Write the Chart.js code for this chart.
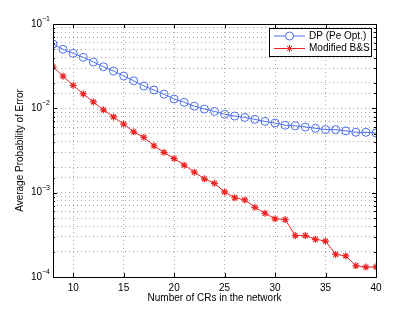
<!DOCTYPE html>
<html>
<head>
<meta charset="utf-8">
<script src="https://cdn.jsdelivr.net/npm/chart.js@4/dist/chart.umd.min.js"></script>
<style>
  html, body { margin: 0; padding: 0; background: #fff; }
  #wrap { width: 415px; height: 312px; position: relative; }
</style>
</head>
<body>
<div id="wrap"><canvas id="chart" width="415" height="312"></canvas></div>
<script>
// number of CRs
const crCounts = [8, 9, 10, 11, 12, 13, 14, 15, 16, 17, 18, 19, 20, 21, 22, 23, 24,
    25, 26, 27, 28, 29, 30, 31, 32, 33, 34, 35, 36, 37, 38, 39, 40];

const dpPeOpt = [0.0579, 0.0501, 0.0449, 0.0403, 0.0354, 0.0311, 0.0277, 0.0242,
    0.0212, 0.0184, 0.0165, 0.0147, 0.0129, 0.0118, 0.0106, 0.0098, 0.0092,
    0.0085, 0.0081, 0.0078, 0.0074, 0.0070, 0.0067, 0.0063, 0.0062, 0.0060,
    0.0058, 0.0056, 0.0056, 0.0054, 0.0052, 0.0052, 0.0051];

const modifiedBS = [0.0311, 0.0240, 0.0187, 0.0148, 0.0119, 0.0096, 0.0079, 0.0065,
    0.00526, 0.00453, 0.00360, 0.00301, 0.00254, 0.00212, 0.00175, 0.00146, 0.00129,
    0.00102, 0.00087, 0.00082, 0.00067, 0.00057, 0.00049, 0.00048, 0.00031, 0.00031,
    0.00028, 0.000267, 0.000185, 0.000178, 0.000136, 0.000131, 0.000132];

const xTicks = [10, 15, 20, 25, 30, 35, 40];
const yDecades = [-4, -3, -2, -1];

const seriesLabels = ['DP (Pe Opt.)', 'Modified B&S'];
const FONT = "'Liberation Sans', Arial, sans-serif";

const matlabLook = {
    id: 'matlabLook',
    afterDraw(chart) {
        const ctx = chart.ctx;
        const area = chart.chartArea;
        const xs = chart.scales.x;
        const ys = chart.scales.y;
        ctx.save();

        // box
        ctx.strokeStyle = '#000';
        ctx.lineWidth = 1;
        ctx.strokeRect(Math.round(area.left) + 0.5, Math.round(area.top) + 0.5,
            Math.round(area.right - area.left), Math.round(area.bottom - area.top));

        // inward tick marks
        ctx.beginPath();
        xs.ticks.forEach(t => {
            const px = Math.round(xs.getPixelForValue(t.value)) + 0.5;
            ctx.moveTo(px, area.bottom); ctx.lineTo(px, area.bottom - 4);
            ctx.moveTo(px, area.top); ctx.lineTo(px, area.top + 4);
        });
        ys.ticks.forEach(t => {
            const py = Math.round(ys.getPixelForValue(t.value)) + 0.5;
            const len = t.major ? 4 : 2;
            ctx.moveTo(area.left, py); ctx.lineTo(area.left + len, py);
            ctx.moveTo(area.right, py); ctx.lineTo(area.right - len, py);
        });
        ctx.stroke();

        // y labels 10^n
        ctx.fillStyle = '#000';
        ctx.textBaseline = 'middle';
        yDecades.forEach(d => {
            const py = ys.getPixelForValue(Math.pow(10, d));
            const exp = '\u2212' + Math.abs(d);
            ctx.font = '7px ' + FONT;
            const ew = ctx.measureText(exp).width;
            ctx.textAlign = 'left';
            ctx.fillText(exp, area.left - 3 - ew, py - 5);
            ctx.font = '10px ' + FONT;
            ctx.textAlign = 'right';
            ctx.fillText('10', area.left - 3 - ew, py);
        });

        // axis titles
        ctx.font = '10px ' + FONT;
        ctx.textAlign = 'center';
        ctx.fillText('Number of CRs in the network', (area.left + area.right) / 2, 298);
        ctx.translate(20, (area.top + area.bottom) / 2);
        ctx.rotate(-Math.PI / 2);
        ctx.fillText('Average Probability of Error', 0, 0);
        ctx.setTransform(1, 0, 0, 1, 0, 0);

        // legend
        const lx = 269, ly = 28, lw = 102, lh = 28;
        ctx.fillStyle = '#fff';
        ctx.fillRect(lx, ly, lw, lh);
        ctx.strokeStyle = '#000';
        ctx.strokeRect(lx + 0.5, ly + 0.5, lw, lh);
        chart.data.datasets.forEach((ds, i) => {
            const y = ly + 8 + i * 12.5;
            ctx.strokeStyle = ds.borderColor;
            ctx.lineWidth = 1;
            ctx.beginPath();
            ctx.moveTo(lx + 5, y); ctx.lineTo(lx + 36, y);
            ctx.stroke();
            Chart.helpers.drawPoint(ctx, {
                pointStyle: ds.pointStyle, radius: ds.pointRadius, borderWidth: 1
            }, lx + 20.5, y);
            ctx.fillStyle = '#000';
            ctx.font = '10px ' + FONT;
            ctx.textAlign = 'left';
            ctx.fillText(ds.label, lx + 40, y);
        });
        ctx.restore();
    }
};

new Chart(document.getElementById('chart'), {
    type: 'line',
    data: {
        datasets: [
            {
                label: seriesLabels[0],
                data: crCounts.map((x, i) => ({ x, y: dpPeOpt[i] })),
                borderColor: '#4b6ef0',
                backgroundColor: 'rgba(0,0,0,0)',
                pointBorderColor: '#4b6ef0',
                pointBackgroundColor: 'rgba(0,0,0,0)',
                pointStyle: 'circle',
                pointRadius: 4,
                borderWidth: 1,
                pointBorderWidth: 1
            },
            {
                label: seriesLabels[1],
                data: crCounts.map((x, i) => ({ x, y: modifiedBS[i] })),
                borderColor: '#ee2424',
                backgroundColor: 'rgba(0,0,0,0)',
                pointBorderColor: '#ee2424',
                pointStyle: 'star',
                pointRadius: 3.5,
                borderWidth: 1,
                pointBorderWidth: 1.2
            }
        ]
    },
    options: {
        responsive: false,
        animation: false,
        layout: { padding: { left: 0, top: 24, right: 39, bottom: 0 } },
        plugins: { legend: { display: false }, tooltip: { enabled: false } },
        scales: {
            x: {
                type: 'linear',
                min: 8,
                max: 40,
                afterBuildTicks: s => { s.ticks = xTicks.map(v => ({ value: v })); },
                afterFit: s => { s.height = 35; },
                border: { display: false, dash: [1, 3] },
                grid: { color: '#a6a6a6', drawTicks: false, lineWidth: 1 },
                ticks: { color: '#000', font: { family: FONT, size: 10 }, padding: 5, maxRotation: 0 }
            },
            y: {
                type: 'logarithmic',
                min: 1e-4,
                max: 1e-1,
                afterFit: s => { s.width = 53; },
                border: { display: false, dash: [1, 3] },
                grid: { color: '#a6a6a6', drawTicks: false, lineWidth: 1 },
                ticks: { display: false, autoSkip: false }
            }
        }
    },
    plugins: [matlabLook]
});
</script>
</body>
</html>
